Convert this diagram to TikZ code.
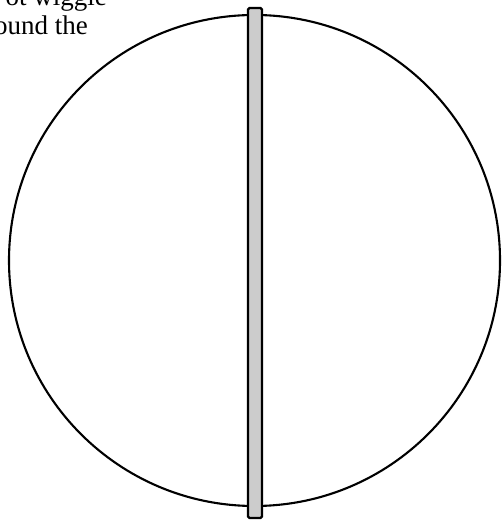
\documentclass[tikz,border=0pt]{standalone}
\usepackage{fontspec}
\setmainfont{Liberation Serif}
\begin{document}
\begin{tikzpicture}[x=1pt,y=1pt]
\useasboundingbox (0,0) rectangle (501,521);
\tikzset{
  outline/.style={draw=black, line width=2.1pt, circle, inner sep=0pt},
  rod/.style={draw=black, line width=2.3pt, fill=black!20, rounded corners=1.5pt, inner sep=0pt},
  cuttext/.style={inner sep=0pt, anchor=base east, font=\fontsize{27}{29}\selectfont}
}
\node[outline, minimum size=491pt] (ball) at (254.5,260.5) {};
\node[rod, minimum width=14pt, minimum height=510pt] (bar) at (255,258) {};
\node[cuttext] (line1) at (107,515) {ot wiggle};
\node[cuttext] (line2) at (88,486) {ound the};
\end{tikzpicture}
\end{document}
